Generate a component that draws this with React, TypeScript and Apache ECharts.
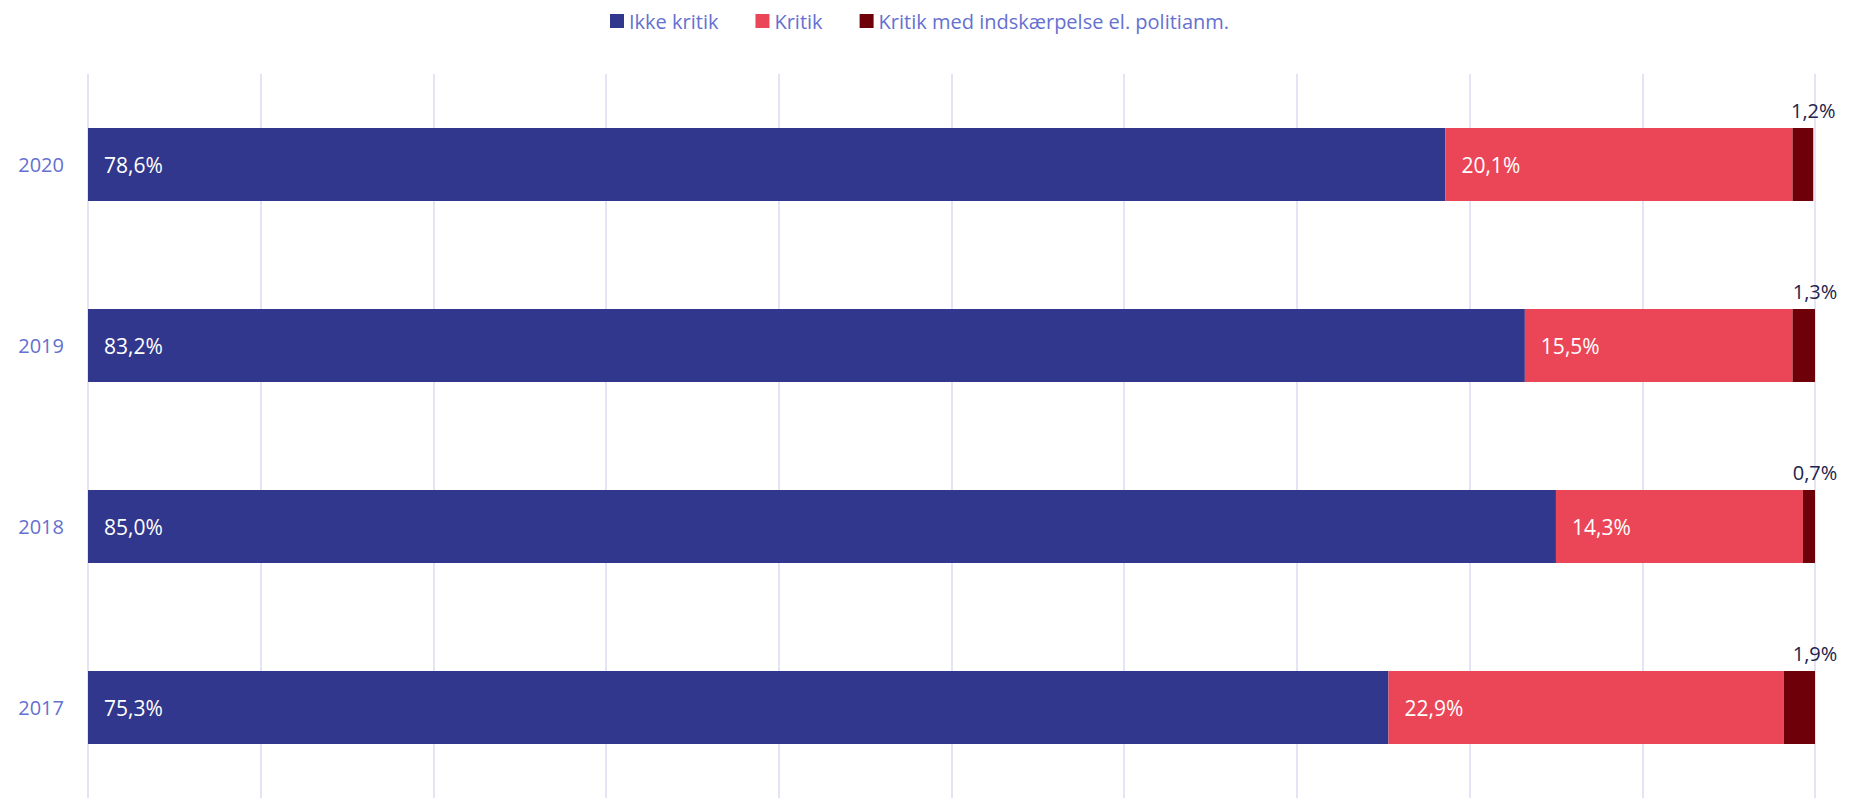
import React, { useEffect, useRef } from "react";
import * as echarts from "echarts";

const categories = ["2020", "2019", "2018", "2017"];
const seriesNames = ["Ikke kritik", "Kritik", "Kritik med indskærpelse el. politianm."];
const ikkeKritik = [78.6, 83.2, 85.0, 75.3];
const kritik = [20.1, 15.5, 14.3, 22.9];
const kritikMed = [1.2, 1.3, 0.7, 1.9];
const colors = ["#31378C", "#EB4657", "#6E000A"];

const fmt = (v: number) => v.toFixed(1).replace(".", ",") + "%";
const FONT = "'Open Sans', sans-serif";

export default function App() {
  const ref = useRef<HTMLDivElement>(null);
  useEffect(() => {
    if (!ref.current) return;
    const chart = echarts.init(ref.current, null, { renderer: "svg" });
    const insideLabel = {
      show: true,
      position: "insideLeft" as const,
      distance: 16,
      color: "#ffffff",
      fontSize: 21,
      fontFamily: FONT,
      formatter: (p: any) => fmt(p.value),
    };
    chart.setOption({
      animation: false,
      color: colors,
      legend: {
        data: seriesNames,
        left: 605,
        top: 6,
        icon: "rect",
        itemWidth: 14,
        itemHeight: 14,
        itemGap: 37,
        textStyle: { color: "#6570D0", fontSize: 20, fontFamily: FONT },
      },
      grid: { left: 88, right: 47, top: 74, bottom: -4, containLabel: false },
      xAxis: {
        type: "value",
        min: 0,
        max: 100,
        interval: 10,
        axisLabel: { show: false },
        axisLine: { show: false },
        axisTick: { show: false },
        splitLine: { show: true, lineStyle: { color: "#DADBF3", width: 1.5 } },
      },
      yAxis: {
        type: "category",
        data: categories,
        inverse: true,
        axisLine: { show: false },
        axisTick: { show: false },
        axisLabel: { color: "#6570D0", fontSize: 20, fontFamily: FONT, margin: 24 },
      },
      series: [
        {
          name: seriesNames[0],
          type: "bar",
          stack: "total",
          barWidth: 73,
          data: ikkeKritik,
          label: insideLabel,
        },
        {
          name: seriesNames[1],
          type: "bar",
          stack: "total",
          barWidth: 73,
          data: kritik,
          label: insideLabel,
        },
        {
          name: seriesNames[2],
          type: "bar",
          stack: "total",
          barWidth: 73,
          data: kritikMed,
          label: {
            show: true,
            position: ["100%", 0],
            align: "center",
            verticalAlign: "bottom",
            offset: [0, -8],
            color: "#22234A",
            fontSize: 20,
            fontFamily: FONT,
            formatter: (p: any) => fmt(p.value),
          },
        },
      ],
    });
    return () => chart.dispose();
  }, []);
  return (
    <div
      ref={ref}
      style={{ position: "absolute", left: 0, top: 0, width: 1862, height: 798, background: "#fff" }}
    />
  );
}
